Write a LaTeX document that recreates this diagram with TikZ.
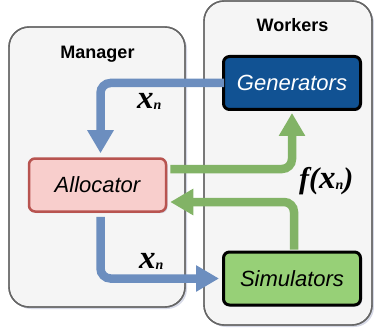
\documentclass[tikz,border=0pt]{standalone}
\usepackage{fontspec}
\setmainfont{Liberation Sans}
\newfontfamily\serifbi{Liberation Serif}
\usetikzlibrary{arrows.meta,shadows}

\definecolor{panelfill}{HTML}{F5F5F5}
\definecolor{panelline}{HTML}{666666}
\definecolor{genfill}{HTML}{115293}
\definecolor{allocfill}{HTML}{F8CECC}
\definecolor{allocline}{HTML}{B85450}
\definecolor{simfill}{HTML}{97D077}
\definecolor{bluearrow}{HTML}{6C8EBF}
\definecolor{greenarrow}{HTML}{82B366}
\definecolor{shadowcol}{HTML}{8A93B8}

\newcommand{\xvar}{{\fontsize{33}{33}\selectfont\serifbi\bfseries\itshape x}\raisebox{-1pt}{\fontsize{14}{14}\selectfont\serifbi\bfseries\itshape n}}

\begin{document}
\begin{tikzpicture}[x=1pt, y=-1pt,
    panel/.style={draw=panelline, line width=1.4pt, fill=panelfill, rounded corners=20pt,
        drop shadow={shadow xshift=2pt, shadow yshift=-2pt, fill=shadowcol, opacity=0.35}},
    job/.style={rounded corners=6pt, minimum width=137pt, minimum height=53pt,
        font=\fontsize{22}{26}\selectfont\itshape,
        drop shadow={shadow xshift=1.5pt, shadow yshift=-1.5pt, fill=shadowcol, opacity=0.35}},
    flow/.style={line width=8.5pt, rounded corners=10pt,
        -{Triangle[width=25pt, length=23pt]}},
    title/.style={font=\fontsize{18}{20}\selectfont\bfseries, anchor=base},
]
    \useasboundingbox (0,0) rectangle (374,331);

    % the two panels
    \fill[panel] (9,27) rectangle (185,307);
    \fill[panel] (204,1) rectangle (372,325);
    \draw[panelline, line width=1.4pt, rounded corners=20pt] (9,27) rectangle (185,307);
    \draw[panelline, line width=1.4pt, rounded corners=20pt] (204,1) rectangle (372,325);

    \node[title] (manager) at (97.5,59) {Manager};
    \node[title] (workers) at (292.5,32) {Workers};

    % boxes
    \node[job, fill=genfill, draw=black, line width=3pt, text=white] (gen) at (292,83) {Generators};
    \node[job, fill=allocfill, draw=allocline, line width=2.5pt] (alloc) at (97.5,185) {Allocator};
    \node[job, fill=simfill, draw=black, line width=3pt] (sim) at (292,278.5) {Simulators};

    % arrows
    \draw[flow, bluearrow, shorten <=-2pt, shorten >=4pt]
        (gen.west) -| ([xshift=3pt]alloc.north);
    \draw[flow, greenarrow, shorten <=3pt, shorten >=2pt]
        ([yshift=16pt]alloc.east) -| (gen.south);
    \draw[flow, greenarrow, shorten <=1pt, shorten >=3pt]
        ([xshift=2pt]sim.north) |- ([yshift=-17pt]alloc.east);
    \draw[flow, bluearrow, shorten <=4pt, shorten >=3pt]
        ([xshift=3pt]alloc.south) |- (sim.west);

    % labels
    \node[anchor=base west, inner sep=0pt] (xtop) at (137,109) {\xvar};
    \node[anchor=base west, inner sep=0pt] (xbottom) at (139,268) {\xvar};
    \node[anchor=base west, inner sep=0pt] (fx) at (299,188)
        {{\fontsize{30}{30}\selectfont\serifbi\bfseries\itshape f(}\xvar{\fontsize{30}{30}\selectfont\serifbi\bfseries\itshape )}};
\end{tikzpicture}
\end{document}
